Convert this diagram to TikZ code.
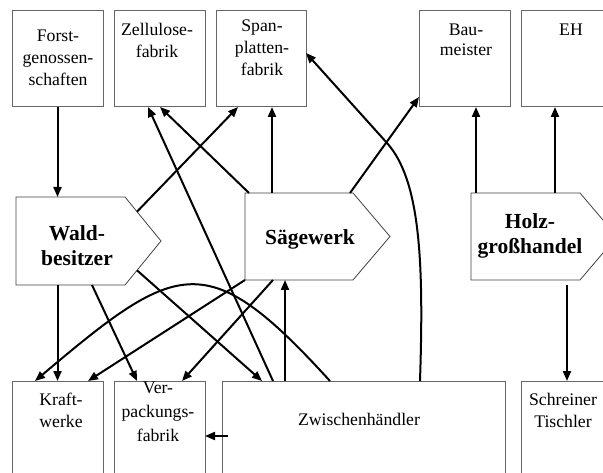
\documentclass[tikz,border=0pt]{standalone}
\usepackage{fontspec}
\setmainfont{Liberation Serif}
\usetikzlibrary{arrows.meta}
\begin{document}
\begin{tikzpicture}[x=1pt,y=-1pt,
  frame/.style={draw=black!60, line width=1pt, inner sep=0pt, outer sep=0pt, anchor=north west},
  body/.style={inner sep=0pt, outer sep=0pt, anchor=north west},
  label text/.style={align=center, inner sep=0pt, font=\fontsize{17.7}{22}\selectfont},
  head text/.style={align=center, inner sep=0pt, font=\fontsize{21.5}{25}\selectfont\bfseries},
  flow/.style={line width=2pt, -{Triangle[length=10pt,width=8pt]}},
  outline/.style={draw=black!75, line width=0.8pt, line join=miter}]
\useasboundingbox (0,0) rectangle (603,473);
\clip (0,0) rectangle (603,473);

% top row of boxes
\node[frame, minimum width=91pt, minimum height=96pt] (forst) at (12,11) {};
\node[frame, minimum width=91pt, minimum height=96pt] (zell)  at (114,11) {};
\node[frame, minimum width=90pt, minimum height=96pt] (span)  at (216,11) {};
\node[frame, minimum width=91pt, minimum height=96pt] (bau)   at (419,11) {};
\node[frame, minimum width=91pt, minimum height=96pt] (eh)    at (521,11) {};

% bottom row of boxes (running off the lower edge)
\node[frame, minimum width=91pt, minimum height=110pt]  (kraft) at (12,381) {};
\node[frame, minimum width=91pt, minimum height=110pt]  (verp)  at (114,381) {};
\node[frame, minimum width=283pt, minimum height=110pt] (zw)    at (222,381) {};
\node[frame, minimum width=91pt, minimum height=110pt]  (schr)  at (521,381) {};

% bodies of the three arrow-shaped blocks
\node[body, minimum width=109pt, minimum height=88pt] (wald)  at (16,197) {};
\node[body, minimum width=108pt, minimum height=87pt] (saege) at (245,193) {};
\node[body, minimum width=109pt, minimum height=87pt] (holz)  at (471,193) {};
\draw[outline] (wald.north west) -- (wald.north east) -- ++(36,44) -- (wald.south east) -- (wald.south west) -- cycle;
\draw[outline] (saege.north west) -- (saege.north east) -- ++(37,43.5) -- (saege.south east) -- (saege.south west) -- cycle;
\draw[outline] (holz.north west) -- (holz.north east) -- ++(37,43.5) -- (holz.south east) -- (holz.south west) -- cycle;

% texts
\node[label text] (forstT) at (58,58) {Forst-\\genossen-\\schaften};
\node[label text] (zellT) at (157,40.5) {Zellulose-\\fabrik};
\node[label text] (spanT) at (262,48) {Span-\\platten-\\fabrik};
\node[label text, font=\fontsize{17.7}{20}\selectfont] (bauT) at (466,40) {Bau-\\meister};
\node[label text] (ehT) at (571,30) {EH};
\node[head text] (waldT) at (77,246) {Wald-\\besitzer};
\node[head text] (saegeT) at (310,239) {Sägewerk};
\node[head text] (holzT) at (530,236) {Holz-\\großhandel};
\node[label text] (kraftT) at (61,410) {Kraft-\\werke};
\node[label text, font=\fontsize{17.7}{24}\selectfont] (verpT) at (158,412) {Ver-\\packungs-\\fabrik};
\node[label text] (zwT) at (359,419) {Zwischenhändler};
\node[label text] (schrT) at (563,410) {Schreiner\\Tischler};

% flows
\draw[flow] (forst.south) -- (forst.south |- wald.north);
\draw[flow] (wald.south -| kraft.north) -- (kraft.north);
\draw[flow] ([xshift=76pt]wald.south west) -- ([xshift=23pt]verp.north west);
\draw[flow] ([xshift=12pt,yshift=-14.7pt]wald.north east) -- ([xshift=22pt]span.south west);
\draw[flow] ([xshift=12pt,yshift=14.7pt]wald.south east) -- ([xshift=40pt]zw.north west);
\draw[flow] ([xshift=27pt]saege.north west) -- ([xshift=56pt]span.south west);
\draw[flow] ([xshift=4pt]saege.north west) -- ([xshift=46pt]zell.south west);
\draw[flow] ([xshift=-3pt]saege.north east) -- ([yshift=10pt]bau.south west);
\draw[flow] ([xshift=51pt]zw.north west) -- ([xshift=34pt]zell.south west);
\draw[flow] (saege.south west) -- ([xshift=76pt]kraft.north west);
\draw[flow] ([xshift=108pt]zw.north west) .. controls (207,246) and (178,260) .. ([xshift=23pt]kraft.north west);
\draw[flow] ([xshift=28pt]saege.south west) -- ([xshift=68pt]verp.north west);
\draw[flow] ([xshift=63pt]zw.north west) -- ([xshift=40pt]saege.south west);
\draw[flow] ([xshift=198pt]zw.north west) .. controls (424,260) and (420,180) .. (387,143) -- ([yshift=54pt]span.south east);
\draw[flow] ([xshift=6pt,yshift=-55pt]zw.north west) -- ([yshift=-55pt]verp.north east);
\draw[flow] ([xshift=5pt]holz.north west) -- ([xshift=57pt]bau.south west);
\draw[flow] ([xshift=84pt]holz.north west) -- ([xshift=34pt]eh.south west);
\draw[flow] ([xshift=96pt,yshift=-5pt]holz.south west) -- ([xshift=46pt]schr.north west);
\end{tikzpicture}
\end{document}
